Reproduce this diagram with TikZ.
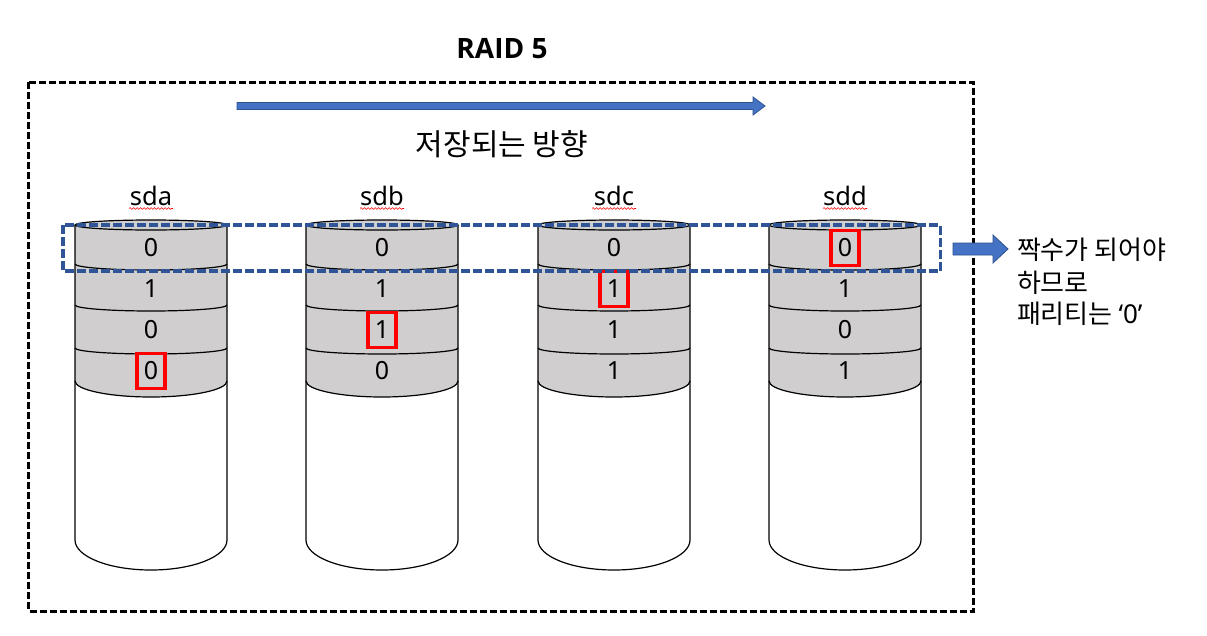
\documentclass[tikz,border=0pt]{standalone}
\usepackage{fontspec}
\setmainfont{Noto Sans}
\newfontfamily\kr{Noto Sans CJK KR}
\newfontfamily\titlefont{Open Sans}
\usetikzlibrary{decorations.pathmorphing}
\definecolor{diskgrey}{HTML}{D0CECE}
\definecolor{arrowfill}{HTML}{4472C4}
\definecolor{arrowline}{HTML}{2F528F}
\definecolor{bandblue}{HTML}{2F5597}
\begin{document}
\begin{tikzpicture}[x=1pt,y=1pt,
  every node/.style={inner sep=0pt, outer sep=0pt},
  diskline/.style={draw=black, line width=1.2pt},
  outerbox/.style={draw=black, line width=3pt, dash pattern=on 7pt off 3pt},
  band/.style={draw=bandblue, line width=3.2pt, dash pattern=on 9pt off 3pt},
  blockarrow/.style={fill=arrowfill, draw=arrowline, line width=0.8pt},
  parity/.style={draw=red, line width=3.8pt, minimum width=28pt, minimum height=35pt},
  disklabel/.style={font=\fontsize{25.5}{28}\selectfont, anchor=base},
  digit/.style={font=\fontsize{25}{28}\selectfont},
  squiggle/.style={draw=red, line width=0.6pt, decorate, decoration={snake, amplitude=0.9pt, segment length=3.5pt}},
  note/.style={font=\kr\fontsize{26}{30}\selectfont, anchor=base west}]
\useasboundingbox (0,0) rectangle (1207,-635);
\fill[white] (0,0) rectangle (1207,-635);

% outer dashed frame
\draw[outerbox] (28.5,-82) rectangle (973,-611);

% title
\node[font=\titlefont\bfseries\fontsize{28}{32}\selectfont, anchor=base] (title) at (502,-58) {RAID 5};

% direction arrow and text
\fill[blockarrow] (237,-102.5) -- (753,-102.5) -- (753,-97) -- (765,-106) -- (753,-115) -- (753,-109.5) -- (237,-109.5) -- cycle;
\node[font=\kr\fontsize{30}{34}\selectfont, anchor=base] (dir) at (502,-155) {저장되는 방향};

% disks
\foreach \cx/\nm/\da/\db/\dc/\dd in {151/sda/0/1/0/0, 382/sdb/0/1/1/0, 614/sdc/0/1/1/1, 845/sdd/0/1/0/1}{
  \fill[white] (\cx-76,-225) -- (\cx-76,-540) arc[start angle=180,end angle=360,x radius=76,y radius=30] -- (\cx+76,-225) -- cycle;
  \fill[diskgrey] (\cx-76,-225) -- (\cx-76,-381) arc[start angle=180,end angle=360,x radius=76,y radius=16] -- (\cx+76,-225) -- cycle;
  \foreach \yy in {264,305,348}{
    \draw[diskline] (\cx-76,-\yy) arc[start angle=180,end angle=360,x radius=76,y radius=6];
  }
  \draw[diskline] (\cx-76,-381) arc[start angle=180,end angle=360,x radius=76,y radius=16];
  \draw[diskline] (\cx-76,-225) -- (\cx-76,-540) arc[start angle=180,end angle=360,x radius=76,y radius=30] -- (\cx+76,-225);
  \draw[diskline, fill=diskgrey] (\cx,-225) ellipse[x radius=76, y radius=5];
  \node[disklabel] (\nm) at (\cx,-205) {\nm};
  \draw[squiggle] (\cx-22,-208.5) -- (\cx+22,-208.5);
  \node[digit] (\nm-1) at (\cx,-248) {\da};
  \node[digit] (\nm-2) at (\cx,-289) {\db};
  \node[digit] (\nm-3) at (\cx,-330) {\dc};
  \node[digit] (\nm-4) at (\cx,-371) {\dd};
}

% parity markers
\node[parity] (pa) at (sda-4) {};
\node[parity] (pb) at (sdb-3) {};
\node[parity] (pc) at (sdc-2) {};
\node[parity] (pd) at (sdd-1) {};

% highlighted stripe
\draw[band] (63,-225) rectangle (940.5,-271);

% note arrow and text
\fill[blockarrow] (953,-243) -- (993,-243) -- (993,-235) -- (1008,-249) -- (993,-263) -- (993,-255) -- (953,-255) -- cycle;
\node[note] (note1) at (1017,-259) {짝수가 되어야};
\node[note] (note2) at (1017,-292) {하므로};
\node[note] (note3) at (1017,-323) {패리티는 {\rmfamily ‘0’}};
\end{tikzpicture}
\end{document}
